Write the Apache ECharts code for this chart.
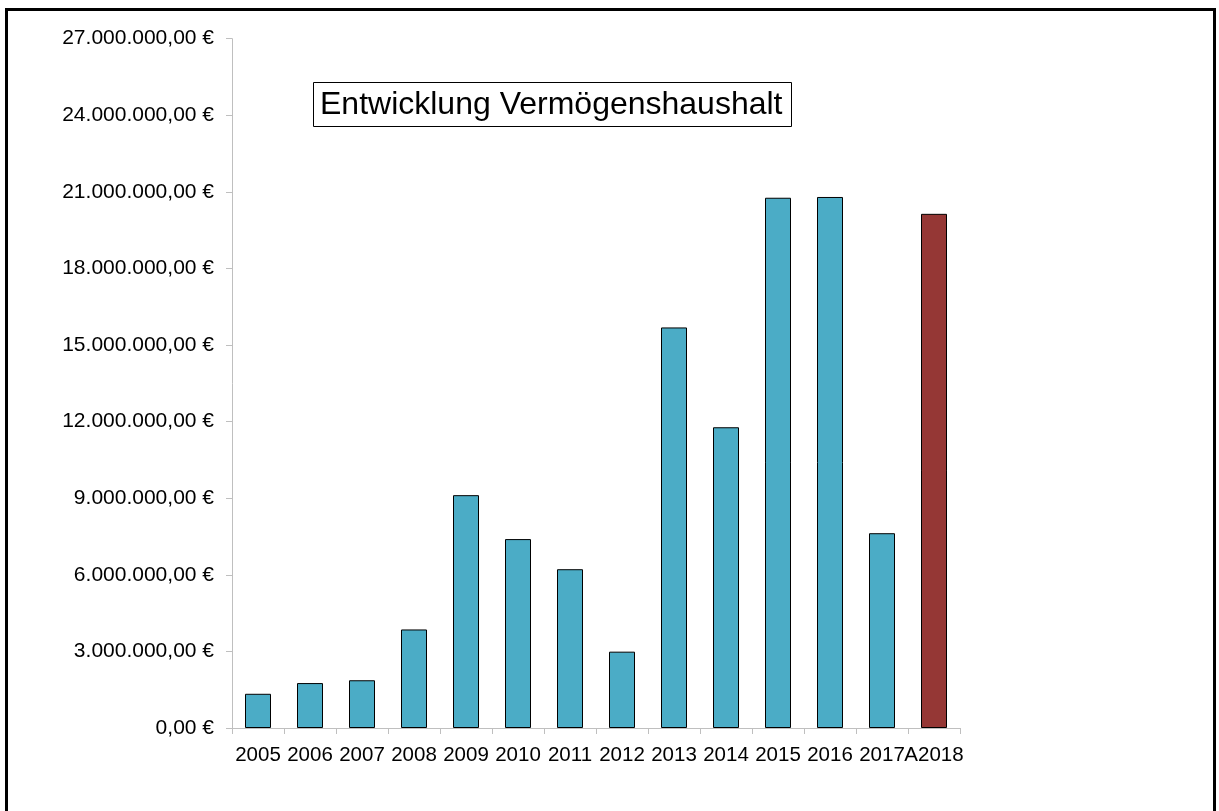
<!DOCTYPE html>
<html>
<head>
<meta charset="utf-8">
<script src="https://cdn.jsdelivr.net/npm/echarts@6/dist/echarts.min.js"></script>
<style>
html, body { margin: 0; padding: 0; background: #fff; }
#chart { width: 1219px; height: 811px; }
</style>
</head>
<body>
<div id="chart"></div>
<script>
const years = ['2005', '2006', '2007', '2008', '2009', '2010', '2011', '2012', '2013', '2014', '2015', '2016', '2017', 'A2018']
const amounts = [1340000, 1760000, 1870000, 3860000, 9120000, 7400000, 6220000, 2990000, 15690000, 11780000, 20770000, 20800000, 7630000, 20140000]
const barColors = ['#4bacc6', '#4bacc6', '#4bacc6', '#4bacc6', '#4bacc6', '#4bacc6', '#4bacc6', '#4bacc6', '#4bacc6', '#4bacc6', '#4bacc6', '#4bacc6', '#4bacc6', '#953735']
const chartTitle = 'Entwicklung Vermögenshaushalt'

const fontFamily = '"Liberation Sans", Arial, sans-serif'

const formatEuro = v => {
	const whole = Math.round(v).toString().replace(/\B(?=(\d{3})+(?!\d))/g, '.')
	return whole + ',00 €'
}

const chart = echarts.init(document.getElementById('chart'))

chart.setOption({
	animation: false,
	backgroundColor: '#fff',
	title: {
		text: chartTitle,
		left: 313,
		top: 82,
		borderColor: '#000',
		borderWidth: 1,
		padding: [7, 9, 6, 7],
		textStyle: {
			fontFamily,
			fontSize: 32,
			fontWeight: 'normal',
			color: '#000',
		},
	},
	graphic: [
		{
			type: 'rect',
			shape: { x: 6.5, y: 9.5, width: 1208, height: 900 },
			style: { fill: 'none', stroke: '#000', lineWidth: 3 },
			silent: true,
		},
	],
	grid: {
		left: 232,
		right: 259,
		top: 38.7,
		bottom: 83,
	},
	xAxis: {
		type: 'category',
		data: years,
		axisLine: { lineStyle: { color: '#bfbfbf', width: 1 } },
		axisTick: { show: true, length: 6, lineStyle: { color: '#bfbfbf' } },
		axisLabel: {
			fontFamily,
			fontSize: 20.5,
			color: '#000',
			margin: 17,
			interval: 0,
		},
	},
	yAxis: {
		type: 'value',
		min: 0,
		max: 27000000,
		interval: 3000000,
		splitLine: { show: false },
		axisLine: { show: true, lineStyle: { color: '#bfbfbf', width: 1 } },
		axisTick: { show: true, length: 6, lineStyle: { color: '#bfbfbf' } },
		axisLabel: {
			fontFamily,
			fontSize: 21,
			color: '#000',
			margin: 18,
			formatter: formatEuro,
		},
	},
	series: [
		{
			type: 'bar',
			barWidth: '50%',
			data: amounts.map((v, i) => ({
				value: v,
				itemStyle: { color: barColors[i] },
			})),
			itemStyle: {
				borderColor: '#000',
				borderWidth: 1,
			},
		},
	],
})
</script>
</body>
</html>
